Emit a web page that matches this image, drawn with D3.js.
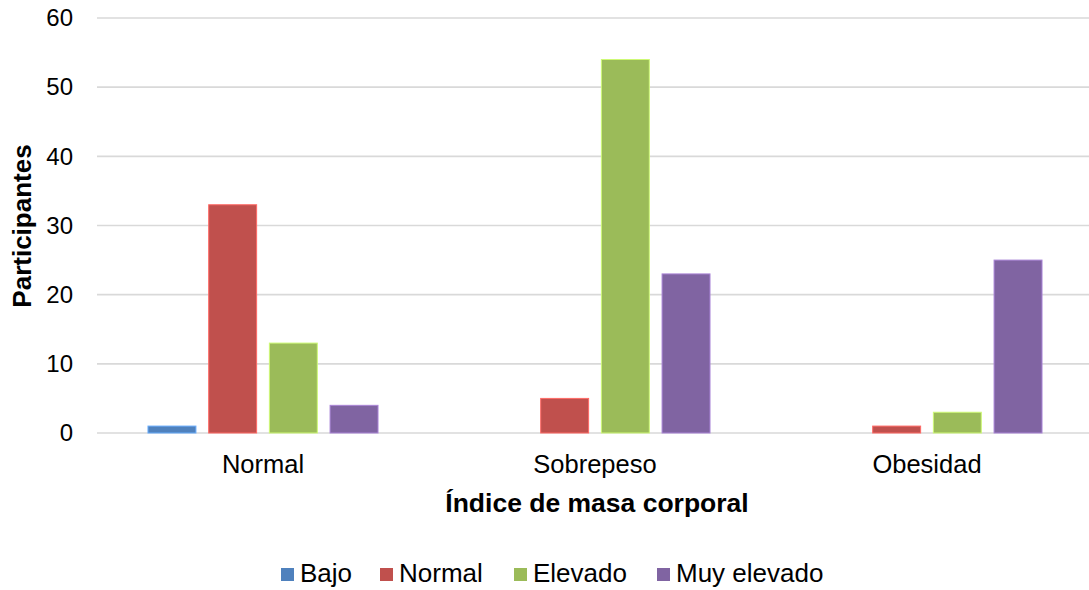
<!DOCTYPE html>
<html>
<head>
<meta charset="utf-8">
<script src="https://cdn.jsdelivr.net/npm/d3@7"></script>
<style>
  html, body { margin: 0; padding: 0; background: #fff; }
  svg { display: block; font-family: "Liberation Sans", Arial, sans-serif; }
</style>
</head>
<body>
<svg id="chart" width="1089" height="590"></svg>
<script>
// Participants by BMI group and level
const categories = ["Normal", "Sobrepeso", "Obesidad"];
const seriesNames = ["Bajo", "Normal", "Elevado", "Muy elevado"];
const bajo = [1, 0, 0];
const normal = [33, 5, 1];
const elevado = [13, 54, 3];
const muyElevado = [4, 23, 25];
const yTicks = [0, 10, 20, 30, 40, 50, 60];
const colors = ["#4F81BD", "#C0504D", "#9BBB59", "#8064A2"];

const seriesValues = [bajo, normal, elevado, muyElevado];

const svg = d3.select("#chart");
const plotLeft = 97, plotRight = 1093, plotTop = 18, plotBottom = 433;
const fontFamily = "Liberation Sans, Arial, sans-serif";

const x0 = d3.scaleBand().domain(categories).range([plotLeft, plotRight]).padding(0);
const x1 = d3.scaleBand().domain(seriesNames).range([0, x0.bandwidth()])
  .paddingInner(0.21).paddingOuter(0.84);
const y = d3.scaleLinear().domain([0, 60]).range([plotBottom, plotTop]);

// gridlines
svg.append("g").selectAll("line").data(yTicks).join("line")
  .attr("x1", plotLeft).attr("x2", plotRight)
  .attr("y1", d => y(d)).attr("y2", d => y(d))
  .attr("stroke", "#d9d9d9").attr("stroke-width", 1.6);

// y axis labels
const yAxis = d3.axisLeft(y).tickValues(yTicks).tickSize(0).tickPadding(0);
const gy = svg.append("g").attr("transform", `translate(73,0)`).call(yAxis);
gy.select(".domain").remove();
gy.selectAll("text").attr("font-size", 24).attr("fill", "#000")
  .attr("font-family", fontFamily);

// bars
const rows = [];
categories.forEach((c, i) => seriesNames.forEach((s, j) =>
  rows.push({ cat: c, ser: s, val: seriesValues[j][i], color: colors[j] })));

svg.append("g").selectAll("rect").data(rows.filter(d => d.val > 0)).join("rect")
  .attr("x", d => x0(d.cat) + x1(d.ser))
  .attr("width", x1.bandwidth())
  .attr("y", d => y(d.val))
  .attr("height", d => y(0) - y(d.val))
  .attr("fill", d => d.color)
  .attr("stroke", d => d3.color(d.color).brighter(0.8))
  .attr("stroke-width", 1);

// x axis labels
const xAxis = d3.axisBottom(x0).tickSize(0).tickPadding(0);
const gx = svg.append("g").attr("transform", `translate(0,473)`).call(xAxis);
gx.select(".domain").remove();
gx.selectAll("text").attr("y", 0).attr("dy", 0)
  .attr("font-size", 25.5).attr("fill", "#000")
  .attr("font-family", fontFamily);

// axis titles
svg.append("text").attr("x", 597).attr("y", 512).attr("text-anchor", "middle")
  .attr("font-size", 26.5).attr("font-weight", "bold").text("Índice de masa corporal");
svg.append("text").attr("transform", "translate(31,226) rotate(-90)")
  .attr("text-anchor", "middle").attr("font-size", 26).attr("font-weight", "bold")
  .text("Participantes");

// legend
const legendX = [281, 380, 514, 657];
const lg = svg.append("g").selectAll("g").data(seriesNames).join("g")
  .attr("transform", (d, i) => `translate(${legendX[i]},568)`);
lg.append("rect").attr("width", 13).attr("height", 13)
  .attr("fill", (d, i) => colors[i]);
lg.append("text").attr("x", 19).attr("y", 14).attr("font-size", 26).text(d => d);
</script>
</body>
</html>
